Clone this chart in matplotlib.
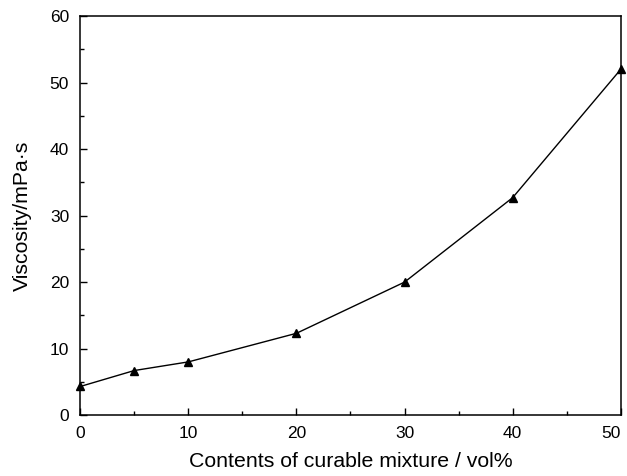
import numpy as np
import matplotlib
matplotlib.use('Agg')
import matplotlib.pyplot as plt
from matplotlib.ticker import MultipleLocator

plt.rcParams['font.family'] = ['Liberation Sans', 'DejaVu Sans']

# content of curable mixture (vol%) and viscosity (mPa.s)
content = [0, 5, 10, 20, 30, 40, 50]
viscosity = [4.3, 6.7, 8.0, 12.3, 20.0, 32.7, 52.0]
xticks = [0, 10, 20, 30, 40, 50]

fig = plt.figure(figsize=(6.27, 4.76), dpi=100)
ax = fig.add_axes([0.128, 0.128, 0.862, 0.838])

ax.plot(content, viscosity, '-', color='k', lw=1.0, marker='^', ms=6,
        markerfacecolor='k', markeredgecolor='k', clip_on=False)

ax.set_xlim(0, 50)
ax.set_ylim(0, 60)
ax.set_xticks(xticks)
xlabs = ax.set_xticklabels([str(t) for t in xticks])
# last x tick label sits flush with the right edge
xlabs[-1].set_horizontalalignment('right')
ax.xaxis.set_minor_locator(MultipleLocator(5))
ax.yaxis.set_major_locator(MultipleLocator(10))
ax.yaxis.set_minor_locator(MultipleLocator(5))
ax.tick_params(which='both', direction='in', labelsize=12.5, width=1.0)
ax.tick_params(which='major', length=5)
ax.tick_params(which='minor', length=3)
ax.tick_params(axis='x', pad=8)
ax.tick_params(axis='y', pad=8)
for s in ax.spines.values():
    s.set_linewidth(1.1)

ax.set_xlabel('Contents of curable mixture / vol%', fontsize=15.3, labelpad=8)
ax.set_ylabel('Viscosity/mPa·s', fontsize=15.3, labelpad=13)

plt.savefig('out.png', dpi=100)
